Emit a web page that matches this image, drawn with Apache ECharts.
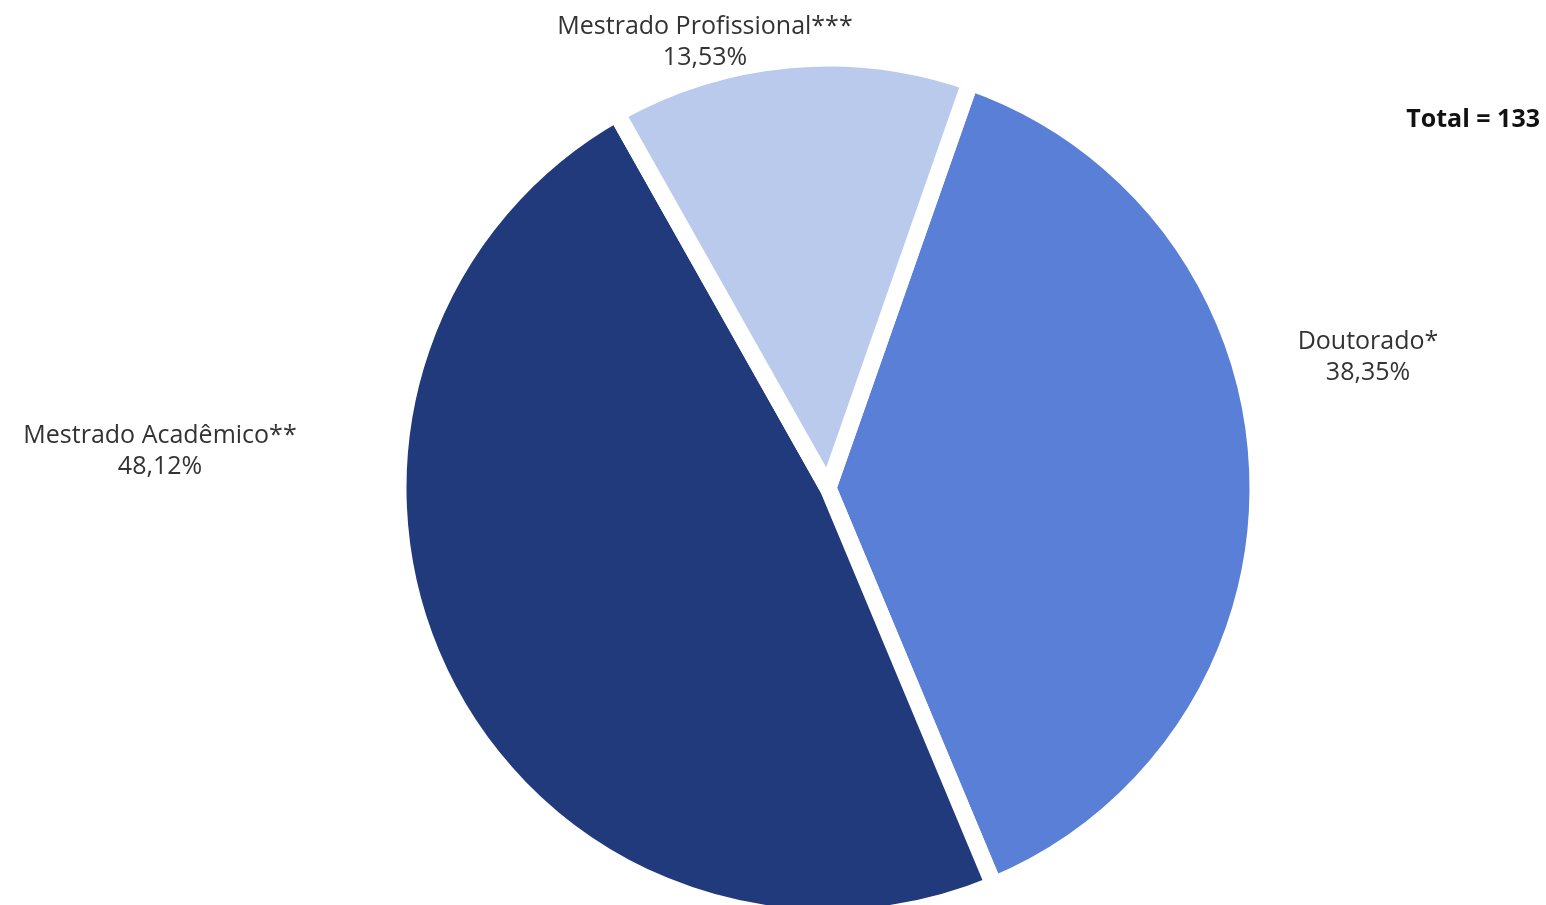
<!DOCTYPE html>
<html>
<head>
<meta charset="utf-8">
<script src="https://cdn.jsdelivr.net/npm/echarts@6/dist/echarts.min.js"></script>
<style>
html,body{margin:0;padding:0;background:#fff;}
#chart{width:1546px;height:905px;}
</style>
</head>
<body>
<div id="chart"></div>
<script>
const categories = ['Doutorado*', 'Mestrado Acadêmico**', 'Mestrado Profissional***'];
const values = [51, 64, 18];
const colors = ['#5a7fd6', '#203a7b', '#b9caec'];
const totalLabel = 'Total = 133';

const total = values.reduce((a, b) => a + b, 0);
const labelPos = [[1368, 357], [160, 451], [705, 42]];

const chart = echarts.init(document.getElementById('chart'));
chart.setOption({
  backgroundColor: '#ffffff',
  animation: false,
  graphic: [{
    type: 'text',
    right: 6,
    top: 107,
    style: {
      text: totalLabel,
      font: 'bold 25px "Open Sans", sans-serif',
      fill: '#111'
    }
  }],
  series: [{
    type: 'pie',
    center: [828, 488],
    radius: [0, 430],
    startAngle: 70.7,
    clockwise: true,
    avoidLabelOverlap: false,
    itemStyle: { borderColor: '#ffffff', borderWidth: 17 },
    label: {
      show: true,
      position: 'outside',
      formatter: p => p.name + '\n' + (p.value / total * 100).toFixed(2).replace('.', ',') + '%',
      fontFamily: '"Open Sans", sans-serif',
      fontSize: 25,
      lineHeight: 31,
      color: '#333',
      align: 'center'
    },
    labelLine: { show: false },
    labelLayout: function (params) {
      const p = labelPos[params.dataIndex];
      return { x: p[0], y: p[1], align: 'center', verticalAlign: 'middle' };
    },
    data: categories.map((c, i) => ({
      name: c,
      value: values[i],
      itemStyle: { color: colors[i] }
    }))
  }]
});
</script>
</body>
</html>
